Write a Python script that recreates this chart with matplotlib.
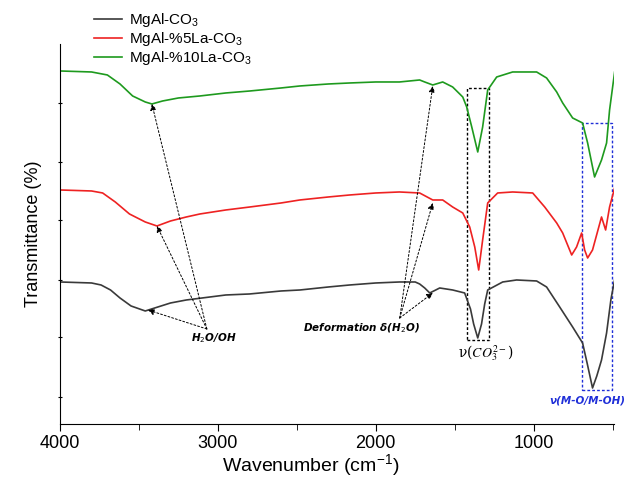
import numpy as np
import matplotlib
matplotlib.use("Agg")
import matplotlib.pyplot as plt

plt.rcParams['font.family'] = ['Liberation Sans', 'DejaVu Sans']
plt.rcParams['mathtext.fontset'] = 'custom'
plt.rcParams['mathtext.rm'] = 'Liberation Sans'
plt.rcParams['mathtext.it'] = 'Liberation Sans:italic'

# wavenumber (cm-1) / transmittance (arb. units, offset stacked)
w_black = [4000, 3800, 3740, 3680, 3620, 3550, 3460, 3380, 3300, 3200, 3100, 2950, 2800, 2600,
           2480, 2300, 2165, 2000, 1850, 1750, 1722, 1690, 1658, 1620, 1595, 1513, 1437, 1400,
           1380, 1354, 1330, 1310, 1291, 1196, 1108, 981, 918, 835, 753, 690, 660, 627, 600,
           570, 538, 510, 487]
t_black = [142, 141, 139, 134, 126, 118, 113, 117, 121, 124, 126, 129, 130, 133,
           134, 137, 139, 141, 142, 142, 140, 136, 131, 134, 136, 134, 131, 115,
           100, 86, 100, 120, 134, 142, 144, 143, 137, 117, 97, 81, 60, 36, 48,
           64, 91, 125, 144]

w_red = [4000, 3800, 3730, 3650, 3560, 3460, 3386, 3300, 3200, 3114, 2950, 2797, 2600, 2481,
         2300, 2165, 2000, 1850, 1722, 1639, 1576, 1513, 1449, 1405, 1373, 1348, 1323, 1291,
         1228, 1133, 1006, 930, 854, 816, 759, 728, 696, 677, 658, 627, 570, 544, 519, 487]
t_red = [234, 233, 231, 222, 210, 202, 198, 203, 207, 210, 214, 217, 221, 224,
         227, 229, 231, 232, 231, 224, 224, 217, 211, 197, 177, 154, 184, 221,
         231, 232, 231, 217, 201, 191, 169, 177, 191, 174, 166, 174, 207, 194, 217, 236]

w_green = [4000, 3800, 3700, 3620, 3540, 3460, 3418, 3350, 3250, 3114, 2950, 2797, 2600, 2481,
           2300, 2165, 2000, 1850, 1722, 1690, 1639, 1576, 1513, 1449, 1424, 1392, 1354, 1323,
           1291, 1234, 1133, 981, 918, 854, 816, 753, 690, 658, 614, 570, 538, 519, 487]
t_green = [353, 352, 349, 340, 328, 322, 320, 323, 326, 328, 331, 333, 336, 338,
           340, 341, 342, 342, 344, 342, 339, 342, 337, 327, 317, 297, 272, 297,
           334, 347, 352, 352, 346, 332, 321, 306, 301, 281, 247, 264, 281, 314, 352]

labels = ['MgAl-CO$_3$', 'MgAl-%5La-CO$_3$', 'MgAl-%10La-CO$_3$']
colors = ['#3a3a3a', '#ee2222', '#1e9a1e']

fig = plt.figure(figsize=(6.29, 4.78), dpi=100)
ax = fig.add_axes([0.0954, 0.113, 0.881, 0.795])

ax.plot(w_black, t_black, color=colors[0], lw=1.2, label=labels[0])
ax.plot(w_red, t_red, color=colors[1], lw=1.2, label=labels[1])
ax.plot(w_green, t_green, color=colors[2], lw=1.2, label=labels[2])

ax.set_xlim(4000, 490)
ax.set_ylim(0, 380)
ax.spines['top'].set_visible(False)
ax.spines['right'].set_visible(False)
ax.set_xticks([4000, 3000, 2000, 1000])
ax.set_xticks([3500, 2500, 1500, 500], minor=True)
ax.set_yticks([27, 87, 144, 204, 262, 321])
ax.set_yticklabels([])
ax.tick_params(axis='x', labelsize=13, length=5, direction='out', pad=3)
ax.tick_params(axis='x', which='minor', length=4)
ax.tick_params(axis='y', length=3, direction='inout')
ax.set_xlabel('Wavenumber (cm$^{-1}$)', fontsize=14)
ax.xaxis.set_label_coords(0.453, -0.075)
ax.set_ylabel('Transmittance (%)', fontsize=13, labelpad=8)

# boxes
ax.add_patch(plt.Rectangle((1424, 84), 1285 - 1424, 252, fill=False, ec='k',
                           ls=(0, (2, 1.5)), lw=1.0))
ax.add_patch(plt.Rectangle((696, 34), 506 - 696, 267, fill=False, ec='#1f2fd8',
                           ls=(0, (2, 1.5)), lw=1.0, clip_on=False))

# dotted arrows
arr = dict(arrowstyle='-|>', ls=(0, (2, 2)), color='k', lw=0.7, mutation_scale=9,
           shrinkA=0, shrinkB=0)
for tgt in [(3443, 114), (3386, 198), (3418, 320)]:
    ax.annotate('', xy=tgt, xytext=(3070, 95), arrowprops=arr)
for tgt in [(1639, 131), (1639, 221), (1639, 338)]:
    ax.annotate('', xy=tgt, xytext=(1848, 106), arrowprops=arr)

ax.text(3025, 86, 'H$_2$O/OH', fontsize=7.5, fontweight='bold', style='italic',
        family='DejaVu Sans', math_fontfamily='dejavusans', ha='center', va='center')
ax.text(2089, 96, 'Deformation δ(H$_2$O)', fontsize=7.5, fontweight='bold', style='italic',
        family='DejaVu Sans', math_fontfamily='dejavusans', ha='center', va='center')
ax.text(1304, 71, r'ν($CO_3^{2-}$)', fontsize=10, ha='center', va='center',
        family='DejaVu Serif', math_fontfamily='stix')
ax.text(658, 23, 'ν(M-O/M-OH)', fontsize=7.5, fontweight='bold', style='italic',
        color='#1f2fd8', family='DejaVu Sans', ha='center', va='center', clip_on=False)

ax.legend(loc='upper left', bbox_to_anchor=(0.128, 1.005), bbox_transform=fig.transFigure,
          frameon=False, fontsize=11, handlelength=1.8, handletextpad=0.45,
          labelspacing=0.05)

fig.savefig('out.png', dpi=100)
